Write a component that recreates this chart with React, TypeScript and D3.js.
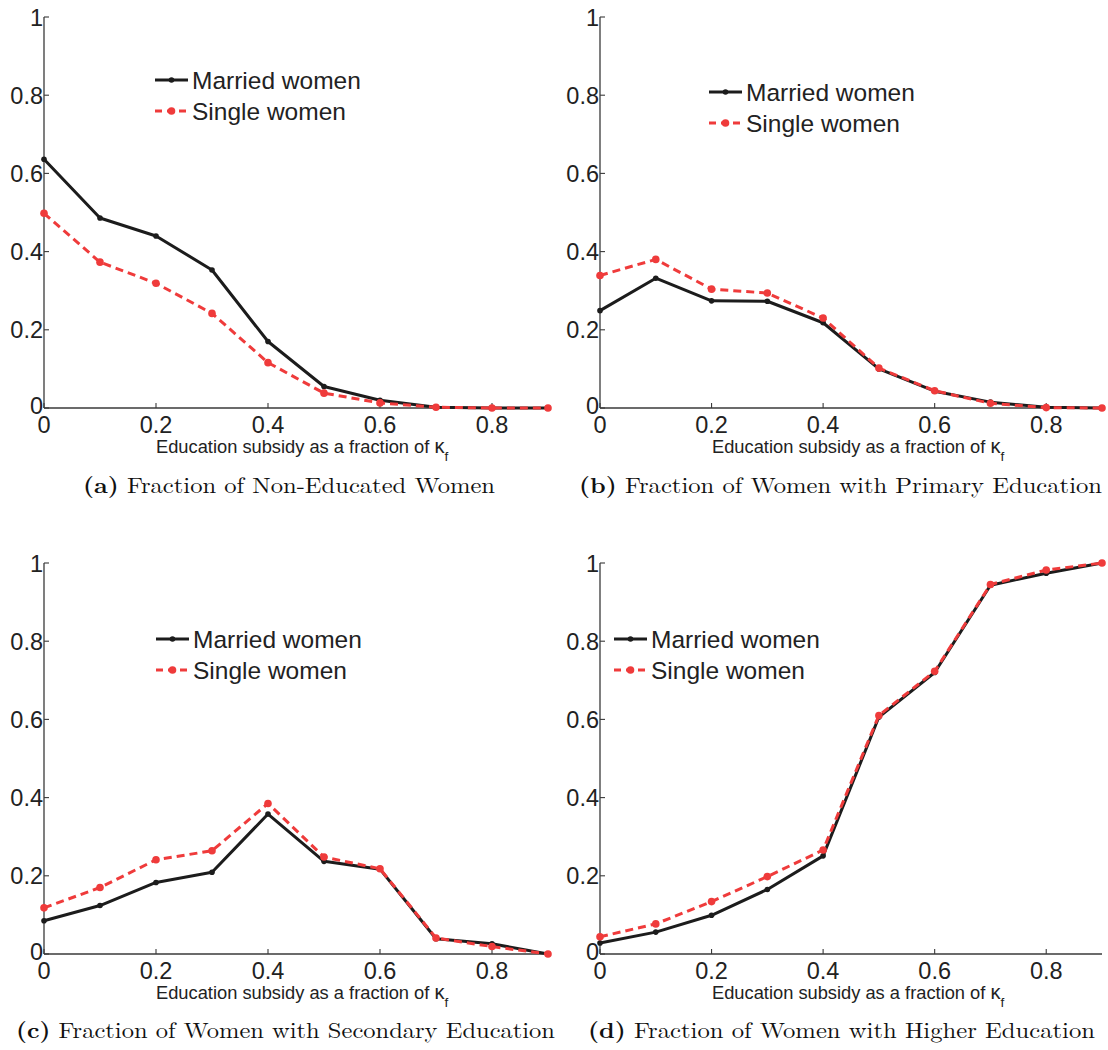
import React from "react";
import * as d3 from "d3";

const subsidy = [0, 0.1, 0.2, 0.3, 0.4, 0.5, 0.6, 0.7, 0.8, 0.9];

const nonEduMarried = [0.636, 0.486, 0.44, 0.353, 0.17, 0.055, 0.02, 0.002, 0, 0];
const nonEduSingle = [0.498, 0.373, 0.319, 0.242, 0.116, 0.038, 0.013, 0.002, 0, 0];

const primaryMarried = [0.249, 0.332, 0.274, 0.273, 0.218, 0.1, 0.043, 0.015, 0.002, 0];
const primarySingle = [0.339, 0.38, 0.304, 0.294, 0.23, 0.102, 0.044, 0.012, 0.001, 0];

const secondaryMarried = [0.085, 0.124, 0.183, 0.209, 0.358, 0.237, 0.217, 0.039, 0.026, 0];
const secondarySingle = [0.118, 0.17, 0.241, 0.264, 0.385, 0.248, 0.218, 0.041, 0.019, 0];

const higherMarried = [0.028, 0.056, 0.099, 0.165, 0.251, 0.606, 0.72, 0.943, 0.974, 1.0];
const higherSingle = [0.044, 0.077, 0.134, 0.198, 0.266, 0.61, 0.723, 0.945, 0.982, 1.0];

const xTicks = [0, 0.2, 0.4, 0.6, 0.8];
const xTickLabels = ["0", "0.2", "0.4", "0.6", "0.8"];
const yTicks = [0, 0.2, 0.4, 0.6, 0.8, 1];
const yTickLabels = ["0", "0.2", "0.4", "0.6", "0.8", "1"];

const seriesNames = ["Married women", "Single women"];
const captionLetters = ["(a)", "(b)", "(c)", "(d)"];
const captionTitles = [
  "Fraction of Non-Educated Women",
  "Fraction of Women with Primary Education",
  "Fraction of Women with Secondary Education",
  "Fraction of Women with Higher Education",
];
const xAxisTitle = "Education subsidy as a fraction of ";

const panelData = [
  [nonEduMarried, nonEduSingle],
  [primaryMarried, primarySingle],
  [secondaryMarried, secondarySingle],
  [higherMarried, higherSingle],
];

const layouts = [
  { x0: 44, x1: 548, yTop: 17, yBot: 408, lx: 155, ly: 80, capX: 83, capW: 412, capY: 493 },
  { x0: 600, x1: 1102, yTop: 17, yBot: 408, lx: 709, ly: 92, capX: 579, capW: 523, capY: 493 },
  { x0: 44, x1: 548, yTop: 563, yBot: 954, lx: 156, ly: 639, capX: 16, capW: 539, capY: 1038 },
  { x0: 600, x1: 1102, yTop: 563, yBot: 954, lx: 614, ly: 639, capX: 588, capW: 507, capY: 1038 },
];

const BLACK = "#1c1c1c";
const RED = "#ef3b3b";
const AXIS = "#3a3a3a";
const SANS = "'Liberation Sans', Arial, Helvetica, sans-serif";
const SERIF = "'Latin Modern Roman', 'Liberation Serif', 'DejaVu Serif', serif";

function Panel({ idx }: { idx: number }) {
  const L = layouts[idx];
  const [married, single] = panelData[idx];
  const x = d3.scaleLinear().domain([0, 0.9]).range([L.x0, L.x1]);
  const y = d3.scaleLinear().domain([0, 1]).range([L.yBot, L.yTop]);
  const line = d3
    .line<number>()
    .x((_, i) => x(subsidy[i]))
    .y((d) => y(d));
  const tickLen = 5;
  const titleX = L.x0 + 112;
  return (
    <g>
      {/* axes */}
      <line x1={L.x0} x2={L.x1} y1={L.yBot} y2={L.yBot} stroke={AXIS} strokeWidth={1.3} />
      <line x1={L.x0} x2={L.x0} y1={L.yTop} y2={L.yBot} stroke={AXIS} strokeWidth={1.3} />
      {xTicks.map((t, i) => (
        <g key={"xt" + i}>
          <line x1={x(t)} x2={x(t)} y1={L.yBot} y2={L.yBot - tickLen} stroke={AXIS} strokeWidth={1.1} />
          <text
            x={x(t)}
            y={L.yBot + 25}
            textAnchor="middle"
            fontFamily={SANS}
            fontSize={23.5}
            fill="#222"
          >
            {xTickLabels[i]}
          </text>
        </g>
      ))}
      {yTicks.map((t, i) => (
        <g key={"yt" + i}>
          <line x1={L.x0} x2={L.x0 + tickLen} y1={y(t)} y2={y(t)} stroke={AXIS} strokeWidth={1.1} />
          <text
            x={L.x0 - 1}
            y={y(t) + (i === 0 ? 6 : 8.5)}
            textAnchor="end"
            fontFamily={SANS}
            fontSize={23.5}
            fill="#222"
          >
            {yTickLabels[i]}
          </text>
        </g>
      ))}
      {/* axis title */}
      <text x={titleX} y={L.yBot + 45} textAnchor="start" fontFamily={SANS} fontSize={18.3} fill="#222">
        {xAxisTitle}
        <tspan fontSize={20}>κ</tspan>
        <tspan fontSize={13.5} dy={8}>f</tspan>
      </text>
      {/* series */}
      <path d={line(married) || ""} fill="none" stroke={BLACK} strokeWidth={3} strokeLinejoin="round" />
      {married.map((v, i) => (
        <circle key={"m" + i} cx={x(subsidy[i])} cy={y(v)} r={2.8} fill={BLACK} />
      ))}
      <path
        d={line(single) || ""}
        fill="none"
        stroke={RED}
        strokeWidth={3}
        strokeDasharray="8,5"
        strokeLinejoin="round"
      />
      {single.map((v, i) => (
        <circle key={"s" + i} cx={x(subsidy[i])} cy={y(v)} r={3.8} fill={RED} />
      ))}
      {/* legend */}
      <g>
        <line x1={L.lx} x2={L.lx + 33} y1={L.ly} y2={L.ly} stroke={BLACK} strokeWidth={3} />
        <circle cx={L.lx + 16.5} cy={L.ly} r={2.8} fill={BLACK} />
        <text x={L.lx + 37} y={L.ly + 8.5} fontFamily={SANS} fontSize={24.5} fill="#222">
          {seriesNames[0]}
        </text>
        <line
          x1={L.lx}
          x2={L.lx + 33}
          y1={L.ly + 31}
          y2={L.ly + 31}
          stroke={RED}
          strokeWidth={3}
          strokeDasharray="7,5"
        />
        <circle cx={L.lx + 16.5} cy={L.ly + 31} r={3.8} fill={RED} />
        <text x={L.lx + 37} y={L.ly + 39.5} fontFamily={SANS} fontSize={24.5} fill="#222">
          {seriesNames[1]}
        </text>
      </g>
      {/* caption */}
      <text
        x={L.capX}
        y={L.capY}
        fontFamily={SERIF}
        fontSize={22}
        fill="#111"
        textLength={L.capW}
        lengthAdjust="spacingAndGlyphs"
      >
        <tspan fontWeight="bold">{captionLetters[idx]}</tspan>
        <tspan> {captionTitles[idx]}</tspan>
      </text>
    </g>
  );
}

export default function App() {
  return (
    <svg
      width={1108}
      height={1050}
      style={{ position: "absolute", left: 0, top: 0, background: "#fff" }}
    >
      <rect width={1108} height={1050} fill="#fff" />
      {[0, 1, 2, 3].map((i) => (
        <Panel key={i} idx={i} />
      ))}
    </svg>
  );
}
